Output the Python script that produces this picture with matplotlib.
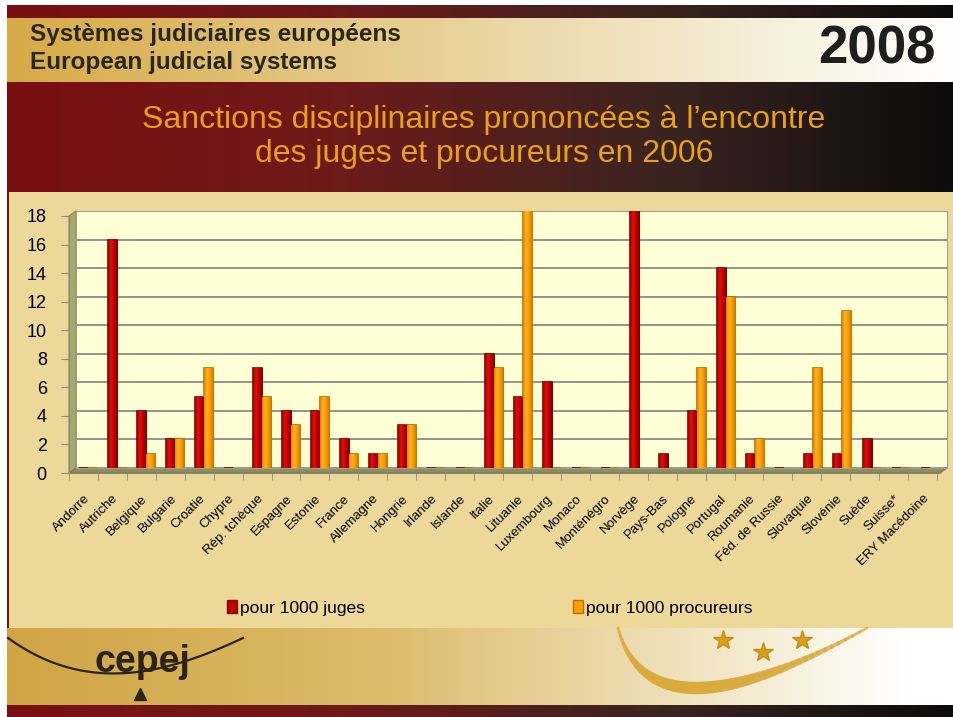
import numpy as np
import matplotlib
matplotlib.use('Agg')
import matplotlib.pyplot as plt
from matplotlib.patches import Polygon, Patch

plt.rcParams['font.family'] = ['Liberation Sans', 'DejaVu Sans']

# Data
countries = ['Andorre', 'Autriche', 'Belgique', 'Bulgarie', 'Croatie', 'Chypre',
             'Rép. tchèque', 'Espagne', 'Estonie', 'France', 'Allemagne', 'Hongrie',
             'Irlande', 'Islande', 'Italie', 'Lituanie', 'Luxembourg', 'Monaco',
             'Monténégro', 'Norvège', 'Pays-Bas', 'Pologne', 'Portugal', 'Roumanie',
             'Féd. de Russie', 'Slovaquie', 'Slovénie', 'Suède', 'Suisse*', 'ERY Macédoine']
juges = [0, 16, 4, 2, 5, 0, 7, 4, 4, 2, 1, 3, 0, 0, 8, 5, 6, 0, 0, 18,
         1, 4, 14, 1, 0, 1, 1, 2, 0, 0]
procureurs = [0, 0, 1, 2, 7, np.nan, 5, 3, 5, 1, 1, 3, 0, 0, 7, 18, 0, 0, 0, np.nan,
              np.nan, 7, 12, 2, np.nan, 7, 11, 0, 0, np.nan]
yticks = list(range(0, 20, 2))

W, H = 954, 717


def fx(x):
    return x / W


def fy(y):
    return 1 - y / H


def box(l, t, r, b):
    return [fx(l), fy(b), (r - l) / W, (b - t) / H]


def hgrad(stops, n):
    # stops: list of (pos, hex colour)
    pos = [s[0] for s in stops]
    cols = np.array([matplotlib.colors.to_rgb(s[1]) for s in stops])
    xs = np.linspace(0, 1, n)
    return np.stack([np.interp(xs, pos, cols[:, k]) for k in range(3)], axis=1)


fig = plt.figure(figsize=(W / 100, H / 100), dpi=100)

# ---- slide background
img = np.ones((H, W, 3))
dark = hgrad([(0, '#7a0f12'), (0.35, '#6e1a1a'), (0.7, '#3a2420'), (1, '#0c0c0c')], W)
gold = hgrad([(0, '#d6a944'), (0.35, '#e3c783'), (0.75, '#f4ead0'), (1, '#ffffff')], W)
foot = hgrad([(0, '#cfa443'), (0.4, '#dcbb6a'), (0.7, '#efe0b8'), (0.95, '#ffffff'), (1, '#ffffff')], W)
img[5:18] = dark
img[18:82] = gold
img[82:192] = dark
img[192:628] = matplotlib.colors.to_rgb('#ecd898')
img[628:705] = foot
img[705:] = dark
img[:, :7] = 1.0
img[192:628, 7:9] = matplotlib.colors.to_rgb('#7a1010')
bg = fig.add_axes([0, 0, 1, 1], zorder=-10)
bg.imshow(img, aspect='auto', extent=(0, W, H, 0))
bg.set_xlim(0, W)
bg.set_ylim(H, 0)
bg.axis('off')

# header texts
fig.text(fx(30), fy(35), 'Systèmes judiciaires européens', fontsize=17.5,
         fontweight='bold', color='#2b2717', va='center', ha='left')
fig.text(fx(30), fy(62), 'European judicial systems', fontsize=17.5,
         fontweight='bold', color='#2b2717', va='center', ha='left')
fig.text(fx(936), fy(50), '2008', fontsize=38, fontweight='bold',
         color='#1e1e1e', va='center', ha='right')
fig.text(fx(484), fy(137), 'Sanctions disciplinaires prononcées à l’encontre\n'
         'des juges et procureurs en 2006', fontsize=23, color='#e6a118',
         ha='center', va='center', linespacing=1.2)

# cepej logo in footer
t = np.linspace(0, 1, 60)
bg.plot(8 + 235 * t, 638 + 170 * t * (1 - t) * (1 - 0.35 * t), color='#2a2415', lw=1.6)
bg.text(142, 662, 'cepej', fontsize=27, fontweight='bold', color='#2a2415',
        ha='center', va='center')
bg.plot([140], [694], marker='^', color='#2a2415', ms=9)
# golden arc and stars
ax_ = (1 - t) ** 2 * 618 + 2 * t * (1 - t) * 650 + t ** 2 * 867
ay_ = 628 + 240 * t * (1 - t)
for i in range(len(t) - 1):
    lw = 2 + 7 * np.sin(np.pi * t[i]) ** 1.5
    bg.plot(ax_[i:i + 2], ay_[i:i + 2], color='#d9aa3c', lw=lw, alpha=0.75,
            solid_capstyle='round')
for sx, sy in [(723, 640), (763, 652), (802, 640)]:
    bg.plot([sx], [sy], marker='*', color='#dba01e', ms=15, mec='#c88d10')

# ---- 3D-ish walls
bl, bt, br, bb = 76, 211, 947, 468  # back plane
dl, dt = -7, 5  # front offset
wall = Polygon([(fx(bl + dl), fy(bt + dt)), (fx(bl), fy(bt)), (fx(bl), fy(bb)),
                (fx(bl + dl), fy(bb + dt))], closed=True, transform=fig.transFigure,
               facecolor='#a8a86a', edgecolor='#8a8a50', lw=0.8, zorder=1)
floor = Polygon([(fx(bl + dl), fy(bb + dt)), (fx(bl), fy(bb)), (fx(br), fy(bb)),
                 (fx(br + dl), fy(bb + dt))], closed=True, transform=fig.transFigure,
                facecolor='#8e8e52', edgecolor='#7a7a45', lw=0.8, zorder=1)
fig.patches.extend([wall, floor])

ax = fig.add_axes(box(bl, bt, br, bb), zorder=2)
ax.set_facecolor('#ffffd6')
x = np.arange(len(countries))
w = 0.31
xlim = (-0.4, len(countries) - 0.4)
ax.set_xlim(*xlim)
ax.set_ylim(0, 18)
ax.set_yticks(yticks)
ax.yaxis.grid(True, color='#8a8a8a', lw=1.3)
ax.set_axisbelow(True)
ax.tick_params(left=False, bottom=False, labelleft=False, labelbottom=False)
for s in ax.spines.values():
    s.set_color('#a0a0a0')

r_bars = ax.bar(x - w / 2, juges, w, color='#c00000', edgecolor='#7a0000', lw=1.2,
                label='pour 1000 juges', zorder=3)
o_bars = ax.bar(x + w / 2, procureurs, w, color='#ff9c00', edgecolor='#b86a00', lw=1.2,
                label='pour 1000 procureurs', zorder=3)

# cylinder shading
shade_r = hgrad([(0, '#a00000'), (0.3, '#e01010'), (0.6, '#c00000'), (1, '#7d0000')], 32)
shade_o = hgrad([(0, '#e08400'), (0.3, '#ffb326'), (0.6, '#ff9c00'), (1, '#c87400')], 32)
for bars, shade in [(r_bars, shade_r), (o_bars, shade_o)]:
    for b in bars:
        hgt = b.get_height()
        if not np.isfinite(hgt) or hgt <= 0:
            continue
        x0 = b.get_x()
        im = ax.imshow(shade[np.newaxis], aspect='auto', zorder=3.5,
                       extent=(x0, x0 + b.get_width(), 0, hgt))
        im.set_clip_path(b)
ax.set_xlim(*xlim)
ax.set_ylim(0, 18)

# front axis with ticks and labels
fa = fig.add_axes(box(bl + dl, bt + dt, br + dl, bb + dt), zorder=1.5)
fa.patch.set_visible(False)
fa.set_xlim(*xlim)
fa.set_ylim(0, 18)
fa.set_yticks(yticks)
fa.set_xticks(x)
fa.set_xticklabels(countries, rotation=45, ha='right', va='top',
                   rotation_mode='anchor', fontsize=9.5)
fa.set_xticks(np.arange(len(countries) + 1) - 0.5, minor=True)
fa.tick_params(axis='x', which='major', length=0, pad=14)
fa.tick_params(axis='x', which='minor', length=5, color='#8a8a8a')
fa.tick_params(axis='y', length=6, color='#8a8a8a', labelsize=13, pad=10)
for side in ['top', 'right']:
    fa.spines[side].set_visible(False)
for side in ['left', 'bottom']:
    fa.spines[side].set_color('#8a8a8a')

handles = [Patch(facecolor='#c00000', edgecolor='#8b0000'),
           Patch(facecolor='#ffa000', edgecolor='#c07000')]
fig.legend(handles, ['pour 1000 juges', 'pour 1000 procureurs'], ncol=2,
           loc='center', bbox_to_anchor=(fx(490), fy(608)), frameon=False,
           fontsize=12.5, handlelength=0.55, handleheight=0.7, handletextpad=0.2,
           columnspacing=12.0)

fig.savefig('out.png', dpi=100)
